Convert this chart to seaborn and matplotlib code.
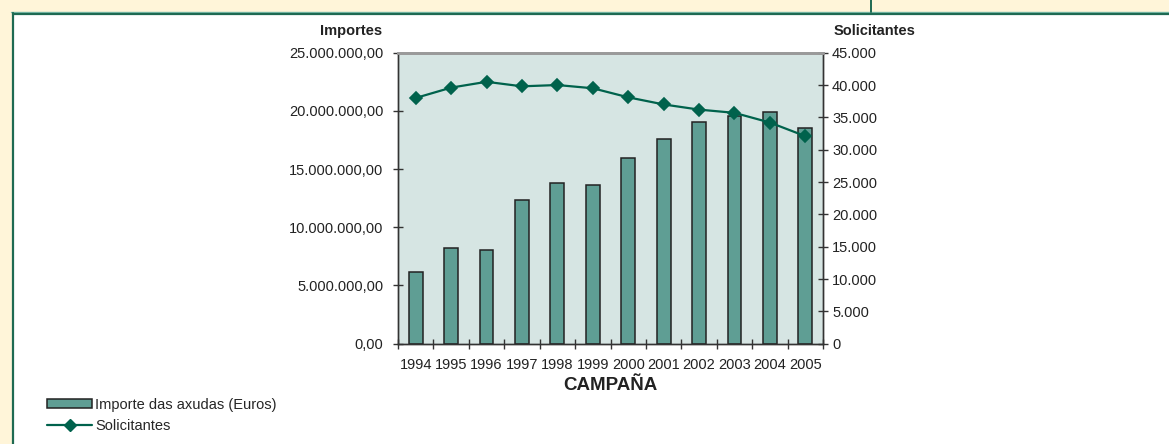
import numpy as np
import pandas as pd
import matplotlib
matplotlib.use("Agg")
import matplotlib.pyplot as plt
from matplotlib.ticker import FuncFormatter, FixedLocator, MultipleLocator
from matplotlib.patches import Patch, Rectangle
from matplotlib.lines import Line2D
import seaborn as sns

# data
years = ["1994", "1995", "1996", "1997", "1998", "1999",
         "2000", "2001", "2002", "2003", "2004", "2005"]
importes = [6.19e6, 8.22e6, 8.05e6, 12.35e6, 13.83e6, 13.66e6,
            15.98e6, 17.59e6, 19.07e6, 19.59e6, 19.88e6, 18.50e6]
solicitantes = [38000, 39600, 40500, 39800, 40000, 39500,
                38100, 37000, 36200, 35700, 34200, 32100]

bar_label = "Importe das axudas (Euros)"
line_label = "Solicitantes"

df = pd.DataFrame({"year": years, "importe": importes, "solic": solicitantes})

sns.set_style("ticks")
plt.rcParams["font.family"] = ["Liberation Sans", "DejaVu Sans"]

BAR = "#5f9e94"
LINE = "#00624c"
PANEL_BG = "#d6e5e3"
CREAM = "#fff5d9"
DARK = "#222222"
FS = 10.5

fig = plt.figure(figsize=(11.69, 4.44), dpi=100)
fig.patch.set_facecolor("white")

W, H = 1169, 444
def fx(px):
    return px / W
def fy(py):
    return 1 - py / H

# cream background bands and panel border
fig.patches.append(Rectangle((0, fy(12.5)), 1, 12.5 / H, transform=fig.transFigure,
                             facecolor=CREAM, edgecolor="none", zorder=0))
fig.patches.append(Rectangle((0, 0), fx(11.5), 1, transform=fig.transFigure,
                             facecolor=CREAM, edgecolor="none", zorder=0))
fig.lines.append(Line2D([fx(11), 1], [fy(12.5), fy(12.5)], transform=fig.transFigure,
                        color="#7bbcaa", lw=1.0))
fig.lines.append(Line2D([fx(12.5), 1], [fy(14), fy(14)], transform=fig.transFigure,
                        color="#1e6a52", lw=1.6))
fig.lines.append(Line2D([fx(12.5), fx(12.5)], [0, fy(13)], transform=fig.transFigure,
                        color="#1e6a52", lw=1.6))
fig.lines.append(Line2D([fx(871), fx(871)], [fy(12.5), 1], transform=fig.transFigure,
                        color="#1e6a52", lw=1.4))

ax = fig.add_axes([fx(398), fy(343.7), fx(823) - fx(398), (343.7 - 52.7) / H])
ax.set_facecolor(PANEL_BG)

sns.barplot(data=df, x="year", y="importe", ax=ax, color=BAR, width=0.39,
            edgecolor=DARK, linewidth=1.1, saturation=1)
ax.set_xlim(-0.5, len(years) - 0.5)
ax.set_ylim(0, 25e6)
ax.yaxis.set_major_locator(MultipleLocator(5e6))
ax.yaxis.set_major_formatter(FuncFormatter(
    lambda v, p: f"{v:,.2f}".replace(",", "X").replace(".", ",").replace("X", ".")))

ax2 = ax.twinx()
sns.pointplot(data=df, x="year", y="solic", ax=ax2, color=LINE, markers="D",
              linestyles="-", markersize=6.5, linewidth=1.6)
ax2.set_xlim(-0.5, len(years) - 0.5)
ax2.set_ylim(0, 45000)
ax2.yaxis.set_major_locator(MultipleLocator(5000))
ax2.yaxis.set_major_formatter(FuncFormatter(lambda v, p: f"{v:,.0f}".replace(",", ".")))

for a in (ax, ax2):
    a.set_xlabel("")
    a.set_ylabel("")
    for s in ("left", "right", "bottom"):
        a.spines[s].set_color("#333333")
        a.spines[s].set_linewidth(1.0)
    a.spines["top"].set_color("#9a9a9a")
    a.spines["top"].set_linewidth(2.0)

ax.tick_params(axis="y", direction="inout", length=7, width=1, color="#333333",
               labelsize=FS, pad=7, labelcolor="#222222")
ax2.tick_params(axis="y", direction="inout", length=7, width=1, color="#333333",
                labelsize=FS, pad=3, labelcolor="#222222")
ax.tick_params(axis="x", which="major", length=0, labelsize=FS, pad=10,
               labelcolor="#222222")
ax.xaxis.set_minor_locator(FixedLocator(np.arange(-0.5, len(years), 1.0)))
ax.tick_params(axis="x", which="minor", direction="inout", length=7, width=1,
               color="#333333")
ax2.tick_params(axis="x", length=0)

ax.set_xlabel("CAMPAÑA", fontsize=13.5, fontweight="bold", labelpad=4, color="#222222")

fig.text(fx(382), fy(31), "Importes", ha="right", va="center", fontsize=FS,
         fontweight="bold", color="#222222")
fig.text(fx(834), fy(31), "Solicitantes", ha="left", va="center", fontsize=FS,
         fontweight="bold", color="#222222")

handles = [Patch(facecolor=BAR, edgecolor=DARK, linewidth=1.1),
           Line2D([], [], color=LINE, lw=1.6, marker="D", markersize=6.5)]
fig.legend(handles, [bar_label, line_label], loc="upper left",
           bbox_to_anchor=(fx(47), fy(398)), frameon=False, fontsize=FS,
           handlelength=3.1, handleheight=0.6, handletextpad=0.2,
           labelspacing=0.45, borderpad=0, borderaxespad=0)

fig.savefig("out.png", dpi=100, facecolor=fig.get_facecolor())
